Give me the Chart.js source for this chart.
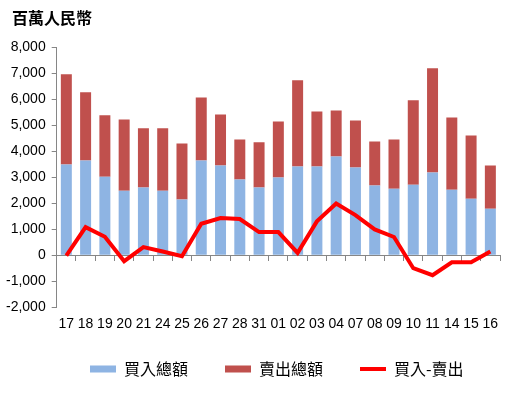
<!DOCTYPE html>
<html>
<head>
<meta charset="utf-8">
<script src="https://cdn.jsdelivr.net/npm/chart.js@4/dist/chart.umd.min.js"></script>
<style>
html,body{margin:0;padding:0;background:#fff;}
#wrap{position:relative;width:516px;height:396px;}
</style>
</head>
<body>
<div id="wrap"><canvas id="c" width="516" height="396"></canvas></div>
<script>
const titleText = '百萬人民幣';
const categories = ['17','18','19','20','21','24','25','26','27','28','31','01','02','03','04','07','08','09','10','11','14','15','16'];
const buyTotal  = [3490,3640,3020,2480,2600,2480,2140,3640,3450,2910,2600,2990,3410,3410,3800,3370,2680,2560,2710,3180,2520,2170,1790];
const sellTotal = [3470,2630,2360,2740,2280,2400,2160,2430,1960,1540,1740,2150,3320,2120,1770,1810,1690,1890,3250,4010,2780,2430,1660];
const netFlow   = [-20,1080,710,-230,310,140,-40,1210,1430,1390,890,890,90,1300,1990,1540,990,700,-500,-770,-270,-270,140];
const seriesNames = ['買入總額','賣出總額','買入-賣出'];
const yMin = -2000, yMax = 8000, yStep = 1000;

const axisGray = '#868686';
const latin = "'Liberation Sans', Arial, sans-serif";
const cjk = "'Noto Sans CJK TC', 'Noto Sans CJK SC', sans-serif";

// place the legend row (first swatch left edge, row top) and indent the title
const placeBoxes = {
  id: 'placeBoxes',
  afterUpdate(chart) {
    const lg = chart.legend;
    if (lg && lg.legendHitBoxes && lg.legendHitBoxes.length) {
      const hb = lg.legendHitBoxes[0];
      const dx = 90 - hb.left;
      const dy = 361 - hb.top;
      lg.left += dx; lg.right += dx; lg.top += dy; lg.bottom += dy;
    }
    const tb = chart.titleBlock;
    if (tb) { tb.left += 12; tb.right += 12; }
  }
};

new Chart(document.getElementById('c'), {
  type: 'bar',
  data: {
    labels: categories,
    datasets: [
      {label: seriesNames[0], data: buyTotal, backgroundColor: '#8EB4E3', stack: 's', order: 1,
       barPercentage: 0.57, categoryPercentage: 1.0, pointStyle: 'rect'},
      {label: seriesNames[1], data: sellTotal, backgroundColor: '#C0504D', stack: 's', order: 1,
       barPercentage: 0.57, categoryPercentage: 1.0, pointStyle: 'rect'},
      {type: 'line', label: seriesNames[2], data: netFlow, borderColor: '#FF0000', backgroundColor: '#FF0000',
       borderWidth: 4, pointRadius: 0, tension: 0, stack: 'l', order: 0, pointStyle: 'line'}
    ]
  },
  plugins: [placeBoxes],
  options: {
    responsive: false,
    animation: false,
    layout: {padding: {left: 0, right: 16, top: 8, bottom: 0}},
    plugins: {
      title: {display: true, text: titleText, align: 'start', color: '#000',
              font: {family: cjk, size: 16, weight: 'bold'}, padding: {top: 0, bottom: 20}},
      tooltip: {enabled: false},
      legend: {
        position: 'bottom',
        maxHeight: 54,
        labels: {
          usePointStyle: true, pointStyleWidth: 26, boxHeight: 7,
          color: '#000', font: {family: cjk, size: 16}, padding: 37,
          sort: (a, b) => a.datasetIndex - b.datasetIndex
        }
      }
    },
    scales: {
      x: {
        stacked: true,
        offset: true,
        grid: {display: false, drawTicks: false},
        border: {display: false},
        ticks: {autoSkip: false, maxRotation: 0, color: '#000', font: {family: latin, size: 14}, padding: 9}
      },
      x0: {
        type: 'category',
        labels: categories,
        position: {y: 0},
        offset: true,
        grid: {offset: true, drawOnChartArea: false, drawTicks: true, tickLength: 5, color: axisGray},
        border: {display: true, color: axisGray, width: 1},
        ticks: {display: false}
      },
      y: {
        stacked: true,
        min: yMin, max: yMax,
        ticks: {stepSize: yStep, color: '#000', font: {family: latin, size: 14}, padding: 6,
                callback: v => v.toLocaleString('en-US')},
        grid: {drawOnChartArea: false, drawTicks: true, tickLength: 5, color: axisGray},
        border: {display: true, color: axisGray, width: 1}
      }
    }
  }
});
</script>
</body>
</html>
